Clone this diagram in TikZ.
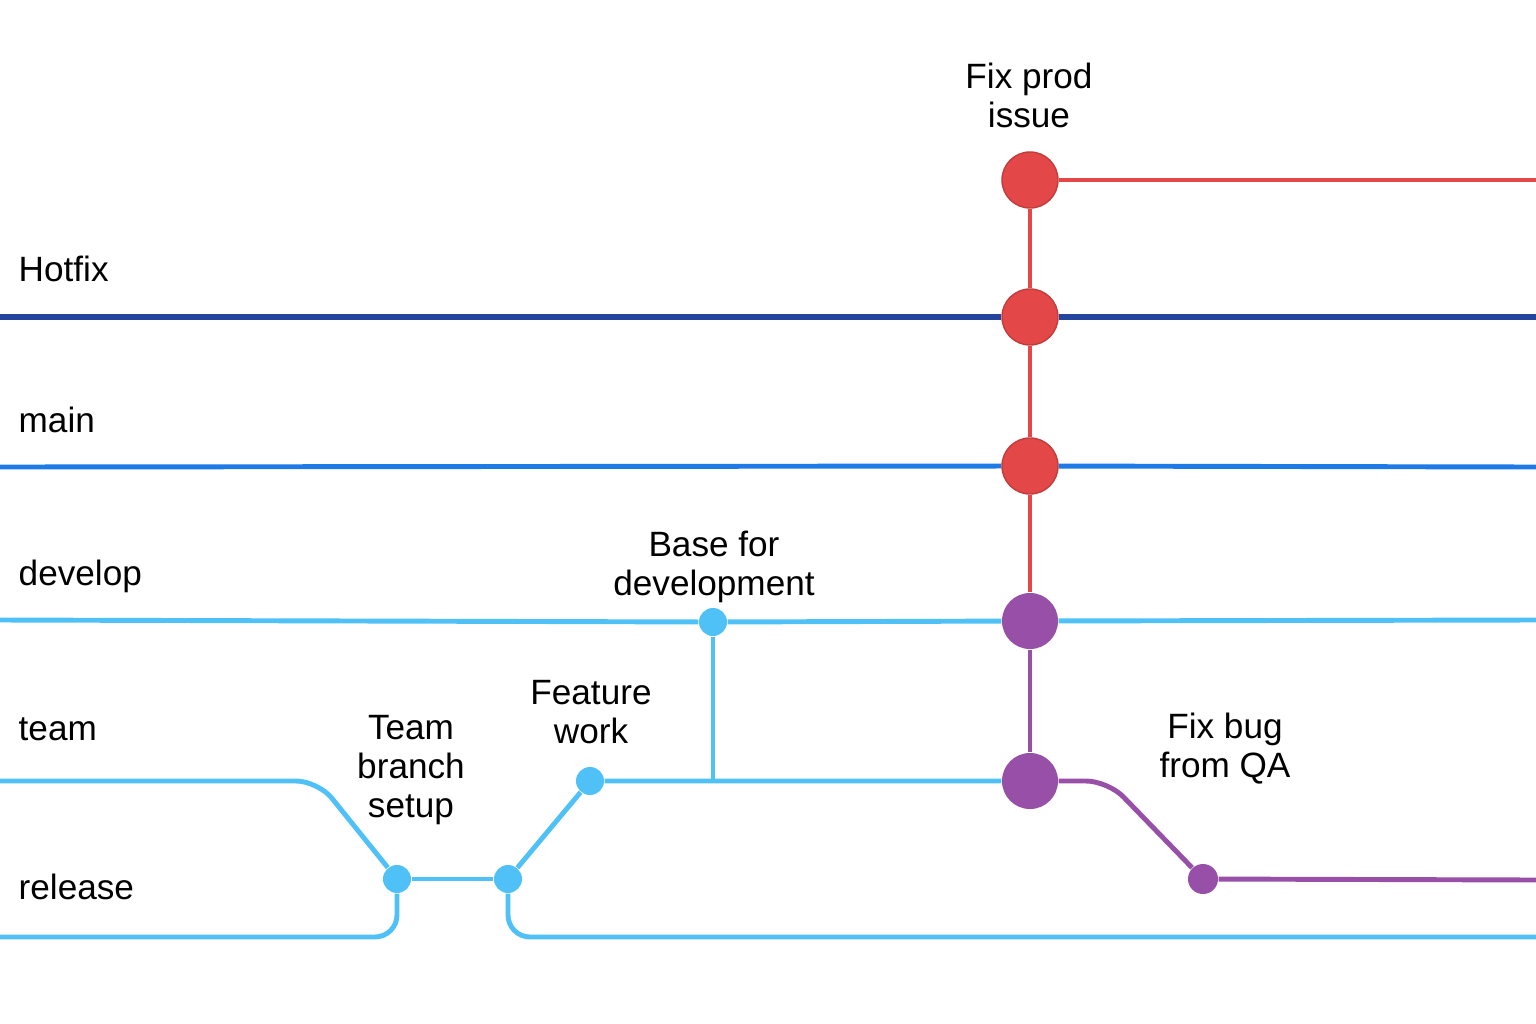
\documentclass[tikz,border=0pt]{standalone}
\usepackage{xcolor}
\usepackage{fontspec}
\setmainfont{Liberation Sans}
\usepackage{tikz}
\usetikzlibrary{positioning, backgrounds}

\definecolor{hotfixblue}{HTML}{24459E}
\definecolor{mainblue}{HTML}{1E7AE6}
\definecolor{lightblue}{HTML}{4FC1F7}
\definecolor{fixred}{HTML}{E44747}
\definecolor{bugpurple}{HTML}{984FA8}

\begin{document}
\begin{tikzpicture}[
  x=0.01cm, y=-0.01cm,
  font=\fontsize{10}{11.1}\selectfont,
  commit/.style={circle, inner sep=0pt, minimum size=0.56cm, line width=0.4pt},
  dot/.style={circle, inner sep=0pt, minimum size=0.28cm},
  line/.style={draw, line width=1.4pt, rounded corners=0.22cm},
  brlabel/.style={anchor=base west, inner sep=0pt},
  note/.style={align=center, inner sep=0pt}
]
  \useasboundingbox (0,0) rectangle (1536,1024);

  % branch names
  \node [brlabel] (lhotfix) at (18,281) {Hotfix};
  \node [brlabel] (lmain) at (18,432) {main};
  \node [brlabel] (ldevelop) at (18,585) {develop};
  \node [brlabel] (lteam) at (18,740) {team};
  \node [brlabel] (lrelease) at (18,899) {release};

  % line ends
  \coordinate (hotfixL) at (0,317);
  \coordinate (hotfixR) at (1536,317);
  \coordinate (mainL) at (0,467);
  \coordinate (mainR) at (1536,467);
  \coordinate (devL) at (0,620);
  \coordinate (devR) at (1536,620);
  \coordinate (teamL) at (0,781);
  \coordinate (teambend) at (318,781);
  \coordinate (relL) at (0,937);
  \coordinate (relR) at (1536,937);
  \coordinate (prodR) at (1536,180);
  \coordinate (qabend) at (1108,781);
  \coordinate (qaR) at (1536,880);

  % commits
  \node [commit, fill=fixred, draw=fixred!85!black] (prodfix) at (1030,180) {};
  \node [commit, fill=fixred, draw=fixred!85!black] (hotfixmerge) at (1030,317) {};
  \node [commit, fill=fixred, draw=fixred!85!black] (mainmerge) at (1030,466) {};
  \node [commit, fill=bugpurple] (devmerge) at (1030,621) {};
  \node [commit, fill=bugpurple] (teammerge) at (1030,781) {};
  \node [dot, fill=lightblue] (teamsetup) at (397,879) {};
  \node [dot, fill=lightblue] (relsplit) at (508,879) {};
  \node [dot, fill=lightblue] (feature) at (590,781) {};
  \node [dot, fill=lightblue] (devbase) at (713,622) {};
  \node [dot, fill=bugpurple, minimum size=0.3cm] (qafix) at (1203,879) {};

  % notes
  \node [note] (tprod) at (1029,95) {Fix prod\\issue};
  \node [note] (tbase) at (714,567) {Base for\\development};
  \node [note] (tfeature) at (591,712) {Feature\\work};
  \node [note] (tsetup) at (411,770) {Team\\branch\\setup};
  \node [note] (tqa) at (1225,749) {Fix bug\\from QA};

  \begin{scope}[on background layer]
    \draw [line, hotfixblue, line width=1.7pt] (hotfixL) -- (hotfixmerge) -- (hotfixR);
    \draw [line, mainblue] (mainL) -- (mainmerge) -- (mainR);
    \draw [line, lightblue] (devL) -- (devbase) -- (devmerge) -- (devR);
    \draw [line, lightblue] (teamL) -- (teambend) -- (teamsetup);
    \draw [line, lightblue] (relL) -| (teamsetup);
    \draw [line, lightblue] (teamsetup) -- (relsplit);
    \draw [line, lightblue] (relsplit) |- (relR);
    \draw [line, lightblue] (relsplit) -- (feature) -- (teammerge);
    \draw [line, lightblue] (devbase) -- (devbase |- feature);
    \draw [line, fixred] (prodfix) -- (prodR);
    \draw [line, fixred] (prodfix) -- (hotfixmerge) -- (mainmerge) -- (devmerge);
    \draw [line, bugpurple] (devmerge) -- (teammerge);
    \draw [line, bugpurple] (teammerge) -- (qabend) -- (qafix) -- (qaR);
  \end{scope}
\end{tikzpicture}
\end{document}
